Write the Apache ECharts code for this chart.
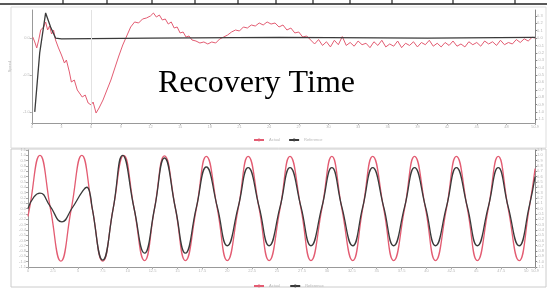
<!DOCTYPE html>
<html>
<head>
<meta charset="utf-8">
<script src="https://cdn.jsdelivr.net/npm/echarts@6.0.0/dist/echarts.min.js"></script>
<style>
  html, body { margin: 0; padding: 0; background: #fff; }
  #chart { width: 547px; height: 298px; }
</style>
</head>
<body>
<div id="chart"></div>
<script>
// 上图: 速度响应 (x = 时间, y = 值)
const topReference = [
  [3, -1.0], [8, -0.2], [14, 0.34], [19, 0.15], [24, 0.0], [30, -0.01],
  [120, 0.0], [250, 0.01], [400, 0.0], [509, 0.01]
];
const topActual = [
  [1, 0.014], [3, -0.053], [5, -0.134], [7, -0.026], [9, 0.109], [12, 0.15],
  [14, 0.218], [16, 0.109], [18, 0.163], [20, 0.055], [22, 0.109], [24, -0.026],
  [27, -0.134], [30, -0.229], [33, -0.338], [35, -0.297], [38, -0.459], [40, -0.595],
  [43, -0.568], [46, -0.703], [48, -0.676], [51, -0.798], [54, -0.771], [57, -0.879],
  [60, -0.906], [62, -0.866], [65, -1.015], [68, -0.947], [72, -0.839], [76, -0.703],
  [80, -0.568], [84, -0.405], [88, -0.243], [92, -0.094], [96, 0.028], [100, 0.15],
  [104, 0.218], [108, 0.204], [112, 0.258], [116, 0.272], [120, 0.299], [123, 0.339],
  [126, 0.285], [129, 0.312], [132, 0.245], [135, 0.258], [138, 0.19], [141, 0.218],
  [144, 0.136], [147, 0.15], [150, 0.069], [153, 0.082], [156, 0.014], [159, 0.028],
  [162, -0.026], [166, -0.04], [170, -0.067], [174, -0.053], [178, -0.08], [182, -0.053],
  [186, -0.067], [190, -0.013], [194, 0.014], [198, 0.041], [202, 0.082], [206, 0.109],
  [210, 0.096], [214, 0.15], [218, 0.136], [222, 0.177], [226, 0.163], [230, 0.204],
  [234, 0.177], [238, 0.218], [242, 0.19], [246, 0.204], [250, 0.15], [254, 0.177],
  [258, 0.109], [262, 0.136], [266, 0.069], [270, 0.082], [274, 0.014], [278, 0.028],
  [282, -0.026], [286, -0.08], [290, -0.02], [294, -0.10], [298, -0.05], [302, -0.12],
  [306, -0.03], [310, -0.09], [314, 0.02], [318, -0.10], [322, -0.06], [326, -0.11],
  [330, -0.04], [334, -0.09], [338, -0.07], [342, -0.13], [346, -0.05], [350, -0.10],
  [354, -0.03], [358, -0.12], [362, -0.08], [366, -0.11], [370, -0.04], [374, -0.13],
  [378, -0.07], [382, -0.10], [386, -0.05], [390, -0.12], [394, -0.06], [398, -0.09],
  [402, -0.03], [406, -0.11], [410, -0.07], [414, -0.12], [418, -0.06], [422, -0.10],
  [426, -0.04], [430, -0.11], [434, -0.08], [438, -0.12], [442, -0.05], [446, -0.09],
  [450, -0.06], [454, -0.11], [458, -0.04], [462, -0.08], [466, -0.05], [470, -0.10],
  [474, -0.03], [478, -0.09], [482, -0.06], [486, -0.08], [490, -0.02], [494, -0.06],
  [498, -0.01], [502, -0.04], [506, 0.01], [509, 0.0]
];

// 下图: 正弦跟踪
const bottomReference = [
  [0, -0.15], [1.5, 0.0], [12, 1.0], [22.5, 0.0], [33, -0.99], [43.5, 0.0],
  [54, 1.0], [64.5, 0.0], [75, -0.99], [85.5, 0.0], [96, 1.0], [106.5, 0.0],
  [117, -0.98], [127, 0.0], [137, 0.99], [148, 0.0], [158, -0.98], [169, 0.0],
  [179, 0.98], [190, 0.0], [200, -0.98], [211, 0.0], [221, 0.98], [232, 0.0],
  [242, -0.98], [253, 0.0], [263, 0.98], [274, 0.0], [284, -0.98], [295, 0.0],
  [305, 0.98], [315, 0.0], [326, -0.98], [336, 0.0], [346, 0.98], [357, 0.0],
  [367, -0.98], [378, 0.0], [388, 0.98], [399, 0.0], [409, -0.98], [420, 0.0],
  [430, 0.98], [441, 0.0], [451, -0.98], [462, 0.0], [472, 0.98], [482, 0.0],
  [493, -0.98], [503, 0.0], [509, 0.75]
];
const bottomActual = [
  [0, 0.0], [6, 0.22], [12, 0.29], [22, 0.05], [34, -0.25], [44, 0.0],
  [55, 0.33], [59, 0.4], [62, 0.3], [64.5, 0.0], [75, -0.97], [85.5, 0.0],
  [95, 1.0], [106.5, 0.0], [117, -0.84], [127, 0.0], [137, 0.95], [148, 0.0],
  [158, -0.84], [169, 0.02], [179, 0.78], [190, 0.03], [200, -0.7], [211, 0.03],
  [221, 0.77], [232, 0.03], [242, -0.7], [253, 0.03], [263, 0.77], [274, 0.03],
  [284, -0.7], [295, 0.03], [305, 0.77], [315, 0.03], [326, -0.7], [336, 0.03],
  [346, 0.77], [357, 0.03], [367, -0.7], [378, 0.03], [388, 0.77], [399, 0.03],
  [409, -0.7], [420, 0.03], [430, 0.77], [441, 0.03], [451, -0.7], [462, 0.03],
  [472, 0.77], [482, 0.03], [493, -0.7], [503, 0.03], [509, 0.6]
];

const topLeftTicks = [-1, -0.5, 0];
const topRightTicks = [-1.1, -1.0, -0.9, -0.8, -0.7, -0.6, -0.5, -0.4, -0.3, -0.2, -0.1, 0, 0.1, 0.2, 0.3];
const tableCols = [63, 107, 152, 195, 238, 276, 313, 350, 392, 453, 515];

const redColor = '#e35c72';
const blackColor = '#3a3a3a';
const faint = '#b8b8b8';

const myChart = echarts.init(document.getElementById('chart'), null, { renderer: 'canvas' });

const tinyLabel = { fontSize: 4, color: faint, margin: 2 };
function valueAxis(extra) {
  return Object.assign({
    type: 'value',
    axisLine: { show: true, onZero: false, lineStyle: { color: '#999', width: 1 } },
    axisTick: { show: true, length: 2, lineStyle: { color: '#aaa' } },
    axisLabel: Object.assign({}, tinyLabel, { formatter: v => (+v).toFixed(1) }),
    splitLine: { show: false }
  }, extra);
}

const graphics = [
  { type: 'line', shape: { x1: 0, y1: 4, x2: 547, y2: 4 }, style: { stroke: '#222', lineWidth: 1.5 } },
  { type: 'rect', shape: { x: 11, y: 7, width: 535, height: 141 }, style: { fill: 'none', stroke: '#ddd', lineWidth: 1 } },
  { type: 'rect', shape: { x: 11, y: 149, width: 535, height: 138 }, style: { fill: 'none', stroke: '#ccc', lineWidth: 1 } },
  {
    type: 'text', left: 158, y: 84, z: 100,
    style: { text: 'Recovery Time', fontFamily: '"Liberation Serif", "Times New Roman", serif', fontSize: 32, fill: '#000', verticalAlign: 'middle' }
  }
].concat(tableCols.map(x => ({
  type: 'line', shape: { x1: x, y1: 0, x2: x, y2: 4 }, style: { stroke: '#222', lineWidth: 1.2 }
})));

const option = {
  animation: false,
  backgroundColor: '#fff',
  grid: [
    { left: 28, right: 10, top: 10, bottom: 175 },
    { left: 28, right: 10, top: 150, bottom: 31 }
  ],
  legend: [
    {
      left: 248, top: 133, itemWidth: 10, itemHeight: 1, itemGap: 8,
      textStyle: { fontSize: 4, color: faint },
      data: ['Actual', 'Reference']
    },
    {
      left: 248, top: 279, itemWidth: 10, itemHeight: 1, itemGap: 8,
      textStyle: { fontSize: 4, color: faint },
      data: ['Actual ', 'Reference ']
    }
  ],
  xAxis: [
    valueAxis({ gridIndex: 0, min: 0, max: 509, interval: 30, axisLabel: Object.assign({}, tinyLabel, { formatter: v => String(v / 10) }) }),
    valueAxis({ gridIndex: 1, min: 0, max: 509, interval: 25, axisLabel: Object.assign({}, tinyLabel, { formatter: v => String(v / 10) }) })
  ],
  yAxis: [
    valueAxis({
      gridIndex: 0, min: -1.15, max: 0.38,
      axisLabel: Object.assign({}, tinyLabel, { customValues: topLeftTicks, formatter: v => (+v).toFixed(1) }),
      axisTick: { show: true, length: 2, customValues: topLeftTicks, lineStyle: { color: '#aaa' } },
      name: 'Speed', nameLocation: 'middle', nameGap: 12, nameTextStyle: { fontSize: 4, color: faint }
    }),
    valueAxis({
      gridIndex: 0, min: -1.15, max: 0.38, position: 'right',
      axisLabel: Object.assign({}, tinyLabel, { customValues: topRightTicks, formatter: v => (+v).toFixed(1) }),
      axisTick: { show: true, length: 2, customValues: topRightTicks, lineStyle: { color: '#888' } },
      axisLine: { show: true, onZero: false, lineStyle: { color: '#888' } }
    }),
    valueAxis({ gridIndex: 1, min: -1.1, max: 1.1, interval: 0.1 }),
    valueAxis({
      gridIndex: 1, min: -1.1, max: 1.1, interval: 0.1, position: 'right',
      axisLine: { show: true, onZero: false, lineStyle: { color: '#888' } },
      axisTick: { show: true, length: 2, lineStyle: { color: '#888' } }
    })
  ],
  series: [
    {
      name: 'Actual', type: 'line', xAxisIndex: 0, yAxisIndex: 0,
      data: topActual, showSymbol: false, color: redColor,
      lineStyle: { color: redColor, width: 1 }
    },
    {
      name: 'Reference', type: 'line', xAxisIndex: 0, yAxisIndex: 0,
      data: topReference, showSymbol: false, color: blackColor,
      lineStyle: { color: blackColor, width: 1.3 },
      markLine: {
        silent: true, symbol: 'none', label: { show: false },
        lineStyle: { color: '#e2e2e2', type: 'solid', width: 1 },
        data: [{ xAxis: 60 }]
      }
    },
    {
      name: 'Actual ', type: 'line', xAxisIndex: 1, yAxisIndex: 2,
      data: bottomReference, showSymbol: false, smooth: true, color: redColor,
      lineStyle: { color: redColor, width: 1.3 }
    },
    {
      name: 'Reference ', type: 'line', xAxisIndex: 1, yAxisIndex: 2,
      data: bottomActual, showSymbol: false, smooth: true, color: blackColor,
      lineStyle: { color: blackColor, width: 1.3 }
    }
  ],
  graphic: graphics
};

myChart.setOption(option);
window.addEventListener('resize', () => myChart.resize());
</script>
</body>
</html>
